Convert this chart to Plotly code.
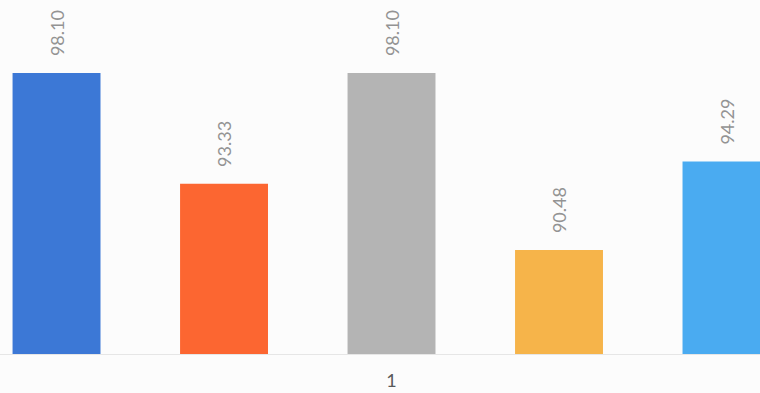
import plotly.graph_objects as go

categories = ["1"]
series_names = ["S1", "S2", "S3", "S4", "S5"]
series_values = [[98.10], [93.33], [98.10], [90.48], [94.29]]
colors = ["#3C78D6", "#FC6631", "#B4B4B4", "#F6B44A", "#4AABF1"]

fig = go.Figure()
for name, vals, col in zip(series_names, series_values, colors):
    fig.add_trace(go.Bar(
        x=categories, y=vals, name=name, marker_color=col, marker_line_width=0,
        text=[f"\u00a0\u00a0\u00a0{v:.2f}" for v in vals],
        textposition="outside", textangle=-90, cliponaxis=False,
        textfont=dict(family="Lato, Open Sans, sans-serif", size=18, color="#939393"),
    ))

fig.update_layout(
    width=760, height=393,
    margin=dict(l=0, r=0, t=0, b=39),
    barmode="group", bargap=0, bargroupgap=0.475,
    paper_bgcolor="#FCFCFC", plot_bgcolor="#FCFCFC",
    showlegend=False,
    uniformtext=dict(minsize=8, mode=False),
    xaxis=dict(type="category", range=[-0.4675, 0.4400], showgrid=False,
               showline=True, linecolor="#E6E6E6", linewidth=1, ticks="",
               ticklabelstandoff=10,
               tickfont=dict(family="Lato, Open Sans, sans-serif", size=18, color="#595959")),
    yaxis=dict(range=[86.0, 101.24], visible=False, showgrid=False),
)

fig.write_html("out.html", config={"displayModeBar": False},
               post_script="document.body.style.margin='0';")
